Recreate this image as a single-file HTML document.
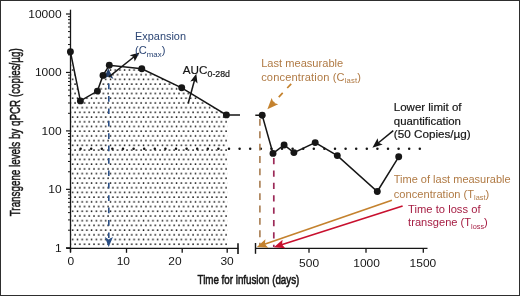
<!DOCTYPE html><html><head><meta charset="utf-8"><style>
html,body{margin:0;padding:0;background:#fff;}
body{width:520px;height:296px;overflow:hidden;}
svg{display:block;will-change:transform;}
text{font-family:"Liberation Sans",sans-serif;}
</style></head><body>
<svg width="520" height="296" viewBox="0 0 520 296">
<defs>
<pattern id="dots" patternUnits="userSpaceOnUse" x="74.1" y="243.2" width="4.72" height="9.42"><circle cx="1" cy="1" r="0.88" fill="#000"/><circle cx="3.36" cy="5.71" r="0.88" fill="#000"/></pattern>
</defs>
<rect x="0" y="0" width="520" height="296" fill="#fff"/>
<polygon points="70.50,51.70 80.40,100.90 97.40,91.10 103.00,75.40 109.30,65.30 141.80,68.80 181.70,87.80 226.40,114.90 227.40,114.90 227.40,247.70 71.10,247.70" fill="url(#dots)"/>
<circle cx="80.60" cy="148.7" r="1.25" fill="#161616"/>
<circle cx="91.20" cy="148.7" r="1.25" fill="#161616"/>
<circle cx="101.80" cy="148.7" r="1.25" fill="#161616"/>
<circle cx="112.40" cy="148.7" r="1.25" fill="#161616"/>
<circle cx="123.00" cy="148.7" r="1.25" fill="#161616"/>
<circle cx="133.60" cy="148.7" r="1.25" fill="#161616"/>
<circle cx="144.20" cy="148.7" r="1.25" fill="#161616"/>
<circle cx="154.80" cy="148.7" r="1.25" fill="#161616"/>
<circle cx="165.40" cy="148.7" r="1.25" fill="#161616"/>
<circle cx="176.00" cy="148.7" r="1.25" fill="#161616"/>
<circle cx="186.60" cy="148.7" r="1.25" fill="#161616"/>
<circle cx="197.20" cy="148.7" r="1.25" fill="#161616"/>
<circle cx="207.80" cy="148.7" r="1.25" fill="#161616"/>
<circle cx="218.40" cy="148.7" r="1.25" fill="#161616"/>
<circle cx="229.00" cy="148.7" r="1.25" fill="#161616"/>
<circle cx="239.60" cy="148.7" r="1.25" fill="#161616"/>
<circle cx="250.20" cy="148.7" r="1.25" fill="#161616"/>
<circle cx="260.80" cy="148.7" r="1.25" fill="#161616"/>
<circle cx="271.40" cy="148.7" r="1.25" fill="#161616"/>
<circle cx="282.00" cy="148.7" r="1.25" fill="#161616"/>
<circle cx="292.60" cy="148.7" r="1.25" fill="#161616"/>
<circle cx="303.20" cy="148.7" r="1.25" fill="#161616"/>
<circle cx="313.80" cy="148.7" r="1.25" fill="#161616"/>
<circle cx="324.40" cy="148.7" r="1.25" fill="#161616"/>
<circle cx="335.00" cy="148.7" r="1.25" fill="#161616"/>
<circle cx="345.60" cy="148.7" r="1.25" fill="#161616"/>
<circle cx="356.20" cy="148.7" r="1.25" fill="#161616"/>
<circle cx="366.80" cy="148.7" r="1.25" fill="#161616"/>
<circle cx="377.40" cy="148.7" r="1.25" fill="#161616"/>
<circle cx="388.00" cy="148.7" r="1.25" fill="#161616"/>
<circle cx="398.60" cy="148.7" r="1.25" fill="#161616"/>
<circle cx="409.20" cy="148.7" r="1.25" fill="#161616"/>
<circle cx="419.80" cy="148.7" r="1.25" fill="#161616"/>
<line x1="70.5" y1="9.7" x2="70.5" y2="251.9" stroke="#161616" stroke-width="1.3"/>
<line x1="66.2" y1="248.3" x2="238.4" y2="248.3" stroke="#161616" stroke-width="1.3"/>
<line x1="238.0" y1="243.2" x2="238.0" y2="253.9" stroke="#161616" stroke-width="1.6"/>
<line x1="255.5" y1="248.3" x2="427.5" y2="248.3" stroke="#161616" stroke-width="1.3"/>
<line x1="255.5" y1="243" x2="255.5" y2="253.8" stroke="#161616" stroke-width="1.4"/>
<line x1="66" y1="14.00" x2="70.5" y2="14.00" stroke="#161616" stroke-width="1.2"/>
<line x1="66" y1="72.45" x2="70.5" y2="72.45" stroke="#161616" stroke-width="1.2"/>
<line x1="66" y1="130.90" x2="70.5" y2="130.90" stroke="#161616" stroke-width="1.2"/>
<line x1="66" y1="189.35" x2="70.5" y2="189.35" stroke="#161616" stroke-width="1.2"/>
<line x1="66" y1="247.80" x2="70.5" y2="247.80" stroke="#161616" stroke-width="1.2"/>
<line x1="68" y1="54.85" x2="70.5" y2="54.85" stroke="#161616" stroke-width="1"/>
<line x1="68" y1="44.56" x2="70.5" y2="44.56" stroke="#161616" stroke-width="1"/>
<line x1="68" y1="37.26" x2="70.5" y2="37.26" stroke="#161616" stroke-width="1"/>
<line x1="68" y1="31.60" x2="70.5" y2="31.60" stroke="#161616" stroke-width="1"/>
<line x1="68" y1="26.97" x2="70.5" y2="26.97" stroke="#161616" stroke-width="1"/>
<line x1="68" y1="23.05" x2="70.5" y2="23.05" stroke="#161616" stroke-width="1"/>
<line x1="68" y1="19.66" x2="70.5" y2="19.66" stroke="#161616" stroke-width="1"/>
<line x1="68" y1="16.67" x2="70.5" y2="16.67" stroke="#161616" stroke-width="1"/>
<line x1="68" y1="113.30" x2="70.5" y2="113.30" stroke="#161616" stroke-width="1"/>
<line x1="68" y1="103.01" x2="70.5" y2="103.01" stroke="#161616" stroke-width="1"/>
<line x1="68" y1="95.71" x2="70.5" y2="95.71" stroke="#161616" stroke-width="1"/>
<line x1="68" y1="90.05" x2="70.5" y2="90.05" stroke="#161616" stroke-width="1"/>
<line x1="68" y1="85.42" x2="70.5" y2="85.42" stroke="#161616" stroke-width="1"/>
<line x1="68" y1="81.50" x2="70.5" y2="81.50" stroke="#161616" stroke-width="1"/>
<line x1="68" y1="78.11" x2="70.5" y2="78.11" stroke="#161616" stroke-width="1"/>
<line x1="68" y1="75.12" x2="70.5" y2="75.12" stroke="#161616" stroke-width="1"/>
<line x1="68" y1="171.75" x2="70.5" y2="171.75" stroke="#161616" stroke-width="1"/>
<line x1="68" y1="161.46" x2="70.5" y2="161.46" stroke="#161616" stroke-width="1"/>
<line x1="68" y1="154.16" x2="70.5" y2="154.16" stroke="#161616" stroke-width="1"/>
<line x1="68" y1="148.50" x2="70.5" y2="148.50" stroke="#161616" stroke-width="1"/>
<line x1="68" y1="143.87" x2="70.5" y2="143.87" stroke="#161616" stroke-width="1"/>
<line x1="68" y1="139.95" x2="70.5" y2="139.95" stroke="#161616" stroke-width="1"/>
<line x1="68" y1="136.56" x2="70.5" y2="136.56" stroke="#161616" stroke-width="1"/>
<line x1="68" y1="133.57" x2="70.5" y2="133.57" stroke="#161616" stroke-width="1"/>
<line x1="68" y1="230.20" x2="70.5" y2="230.20" stroke="#161616" stroke-width="1"/>
<line x1="68" y1="219.91" x2="70.5" y2="219.91" stroke="#161616" stroke-width="1"/>
<line x1="68" y1="212.61" x2="70.5" y2="212.61" stroke="#161616" stroke-width="1"/>
<line x1="68" y1="206.95" x2="70.5" y2="206.95" stroke="#161616" stroke-width="1"/>
<line x1="68" y1="202.32" x2="70.5" y2="202.32" stroke="#161616" stroke-width="1"/>
<line x1="68" y1="198.40" x2="70.5" y2="198.40" stroke="#161616" stroke-width="1"/>
<line x1="68" y1="195.01" x2="70.5" y2="195.01" stroke="#161616" stroke-width="1"/>
<line x1="68" y1="192.02" x2="70.5" y2="192.02" stroke="#161616" stroke-width="1"/>
<line x1="70.5" y1="248.3" x2="70.5" y2="252.8" stroke="#161616" stroke-width="1.3"/>
<line x1="126.5" y1="248.3" x2="126.5" y2="252.8" stroke="#161616" stroke-width="1.3"/>
<line x1="182.2" y1="248.3" x2="182.2" y2="252.8" stroke="#161616" stroke-width="1.3"/>
<line x1="227.2" y1="248.3" x2="227.2" y2="252.8" stroke="#161616" stroke-width="1.3"/>
<line x1="309.0" y1="248.3" x2="309.0" y2="252.8" stroke="#161616" stroke-width="1.3"/>
<line x1="366.0" y1="248.3" x2="366.0" y2="252.8" stroke="#161616" stroke-width="1.3"/>
<line x1="423.3" y1="248.3" x2="423.3" y2="252.8" stroke="#161616" stroke-width="1.3"/>
<line x1="108.8" y1="83.6" x2="108.8" y2="238" stroke="#2a4f86" stroke-width="1.6" stroke-dasharray="5.7 6.7"/>
<polygon points="108.7,247 104.8,237.1 108.7,239.4 112.9,237.1" fill="#2a4f86"/>
<line x1="259.9" y1="119" x2="259.9" y2="247" stroke="#a87c50" stroke-width="1.6" stroke-dasharray="6.8 5.57"/>
<line x1="273.8" y1="158.1" x2="273.8" y2="247" stroke="#9c2a58" stroke-width="1.7" stroke-dasharray="6.2 6.17"/>
<polyline points="70.4,51.7 80.4,100.9 97.4,91.1 103.0,75.4 109.3,65.3 141.8,68.8 181.7,87.8 226.4,114.9 240.0,114.9" fill="none" stroke="#161616" stroke-width="1.5"/>
<polyline points="255.3,115.3 262.2,115.3 273.0,153.4 284.1,145.0 293.9,152.6 315.2,142.6 337.3,155.6 377.3,191.5 398.7,156.8" fill="none" stroke="#161616" stroke-width="1.5"/>
<polygon points="108.4,68.6 103.3,78.8 108.6,76.4 113.4,79.0" fill="#243f6a"/>
<circle cx="70.4" cy="51.7" r="3.45" fill="#161616"/>
<circle cx="80.4" cy="100.9" r="3.45" fill="#161616"/>
<circle cx="97.4" cy="91.1" r="3.45" fill="#161616"/>
<circle cx="103.0" cy="75.4" r="3.45" fill="#161616"/>
<circle cx="109.3" cy="65.3" r="3.45" fill="#161616"/>
<circle cx="141.8" cy="68.8" r="3.45" fill="#161616"/>
<circle cx="181.7" cy="87.8" r="3.45" fill="#161616"/>
<circle cx="226.4" cy="114.9" r="3.45" fill="#161616"/>
<circle cx="262.2" cy="115.3" r="3.45" fill="#161616"/>
<circle cx="273.0" cy="153.4" r="3.45" fill="#161616"/>
<circle cx="284.1" cy="145.0" r="3.45" fill="#161616"/>
<circle cx="293.9" cy="152.6" r="3.45" fill="#161616"/>
<circle cx="315.2" cy="142.6" r="3.45" fill="#161616"/>
<circle cx="337.3" cy="155.6" r="3.45" fill="#161616"/>
<circle cx="377.3" cy="191.5" r="3.45" fill="#161616"/>
<circle cx="398.7" cy="156.8" r="3.45" fill="#161616"/>
<line x1="108.60" y1="77.20" x2="134.13" y2="56.77" stroke="#161616" stroke-width="1.5"/><polygon points="139.60,52.40 134.68,61.46 133.74,57.09 129.68,55.21" fill="#161616"/>
<line x1="188.20" y1="103.20" x2="194.57" y2="80.07" stroke="#161616" stroke-width="1.5"/><polygon points="196.30,73.80 197.52,83.47 194.44,80.55 190.29,81.48" fill="#161616"/>
<line x1="393.30" y1="130.60" x2="378.19" y2="143.03" stroke="#161616" stroke-width="1.5"/><polygon points="372.40,147.80 377.58,138.36 378.58,142.72 382.66,144.53" fill="#161616"/>
<line x1="291.20" y1="83.80" x2="273.21" y2="103.00" stroke="#c4822e" stroke-width="1.7" stroke-dasharray="5.8 6.6"/><polygon points="267.40,109.20 271.64,98.10 273.55,102.63 278.20,104.25" fill="#c4822e"/>
<line x1="391.90" y1="200.30" x2="264.46" y2="244.29" stroke="#c4822e" stroke-width="1.7"/><polygon points="256.90,246.90 265.39,239.31 264.93,244.13 268.26,247.63" fill="#c4822e"/>
<line x1="402.60" y1="206.00" x2="281.52" y2="244.76" stroke="#c8102e" stroke-width="1.7"/><polygon points="273.90,247.20 282.56,239.81 282.00,244.61 285.24,248.19" fill="#c8102e"/>
<text x="135.1" y="39.8" font-size="10.9" fill="#2b4574" text-anchor="start" >Expansion</text>
<text x="135.0" y="53.9" font-size="11.1" fill="#2b4574" text-anchor="start" >(C<tspan font-size="7.9" dy="2.6">max</tspan><tspan dy="-2.6">)</tspan></text>
<text x="182.8" y="73.9" font-size="11.7" fill="#161616" stroke="#161616" stroke-width="0.2" text-anchor="start" >AUC<tspan font-size="8.8" dy="3.5">0-28d</tspan></text>
<text x="261.2" y="66.8" font-size="11.1" fill="#b07a44" text-anchor="start" >Last measurable</text>
<text x="261.2" y="80.7" font-size="11.1" fill="#b07a44" text-anchor="start" letter-spacing="0.13">concentration (C<tspan font-size="7.7" dy="2.1">last</tspan><tspan dy="-2.1">)</tspan></text>
<text x="393.8" y="111.3" font-size="11.5" fill="#161616" stroke="#161616" stroke-width="0.2" text-anchor="start" >Lower limit of</text>
<text x="393.8" y="124.8" font-size="11.4" fill="#161616" stroke="#161616" stroke-width="0.2" text-anchor="start" >quantification</text>
<text x="393.8" y="138.4" font-size="11.7" fill="#161616" stroke="#161616" stroke-width="0.2" text-anchor="start" >(50 Copies/µg)</text>
<text x="0" y="0" font-size="11.7" fill="#b07a44" text-anchor="start" transform="translate(393.8,183.3) scale(0.94,1)" >Time of last measurable</text>
<text x="0" y="0" font-size="11.7" fill="#b07a44" text-anchor="start" transform="translate(393.8,198.1) scale(0.95,1)" >concentration (T<tspan font-size="7.7" dy="2.1">last</tspan><tspan dy="-2.1">)</tspan></text>
<text x="0" y="0" font-size="11.8" fill="#a51c42" text-anchor="start" transform="translate(408.1,212.5) scale(0.95,1)" >Time to loss of</text>
<text x="0" y="0" font-size="11.7" fill="#a51c42" text-anchor="start" transform="translate(408.1,226.4) scale(0.95,1)" >transgene (T<tspan font-size="7.7" dy="2.1">loss</tspan><tspan dy="-2.1">)</tspan></text>
<text x="0" y="0" font-size="10.9" fill="#161616" text-anchor="end" transform="translate(61.6,17.9) scale(1.1,1)">10000</text>
<text x="0" y="0" font-size="10.9" fill="#161616" text-anchor="end" transform="translate(61.6,76.35000000000001) scale(1.1,1)">1000</text>
<text x="0" y="0" font-size="10.9" fill="#161616" text-anchor="end" transform="translate(61.6,134.8) scale(1.1,1)">100</text>
<text x="0" y="0" font-size="10.9" fill="#161616" text-anchor="end" transform="translate(61.6,193.25000000000003) scale(1.1,1)">10</text>
<text x="0" y="0" font-size="10.9" fill="#161616" text-anchor="end" transform="translate(61.6,251.70000000000002) scale(1.1,1)">1</text>
<text x="0" y="0" font-size="10.9" fill="#161616" text-anchor="middle" transform="translate(70.8,265.0) scale(1.1,1)">0</text>
<text x="0" y="0" font-size="10.9" fill="#161616" text-anchor="middle" transform="translate(123.3,265.0) scale(1.1,1)">10</text>
<text x="0" y="0" font-size="10.9" fill="#161616" text-anchor="middle" transform="translate(175.0,265.0) scale(1.1,1)">20</text>
<text x="0" y="0" font-size="10.9" fill="#161616" text-anchor="middle" transform="translate(227.1,265.0) scale(1.1,1)">30</text>
<text x="0" y="0" font-size="10.9" fill="#161616" text-anchor="middle" transform="translate(309.1,267.3) scale(1.1,1)">500</text>
<text x="0" y="0" font-size="10.9" fill="#161616" text-anchor="middle" transform="translate(366.6,267.3) scale(1.1,1)">1000</text>
<text x="0" y="0" font-size="10.9" fill="#161616" text-anchor="middle" transform="translate(422.9,267.3) scale(1.1,1)">1500</text>
<text x="0" y="0" font-size="13.6" fill="#161616" stroke="#161616" stroke-width="0.6" text-anchor="middle" transform="translate(248.4,284.2) scale(0.72,1)">Time for infusion (days)</text>
<text x="0" y="0" font-size="14.2" fill="#161616" stroke="#161616" stroke-width="0.5" text-anchor="middle" transform="translate(20.2,132.3) rotate(-90) scale(0.692,1)">Transgene levels by qPCR (copies/µg)</text>
<rect x="0.5" y="0.5" width="519" height="295" fill="none" stroke="#2e2e2e" stroke-width="1"/>
</svg></body></html>
